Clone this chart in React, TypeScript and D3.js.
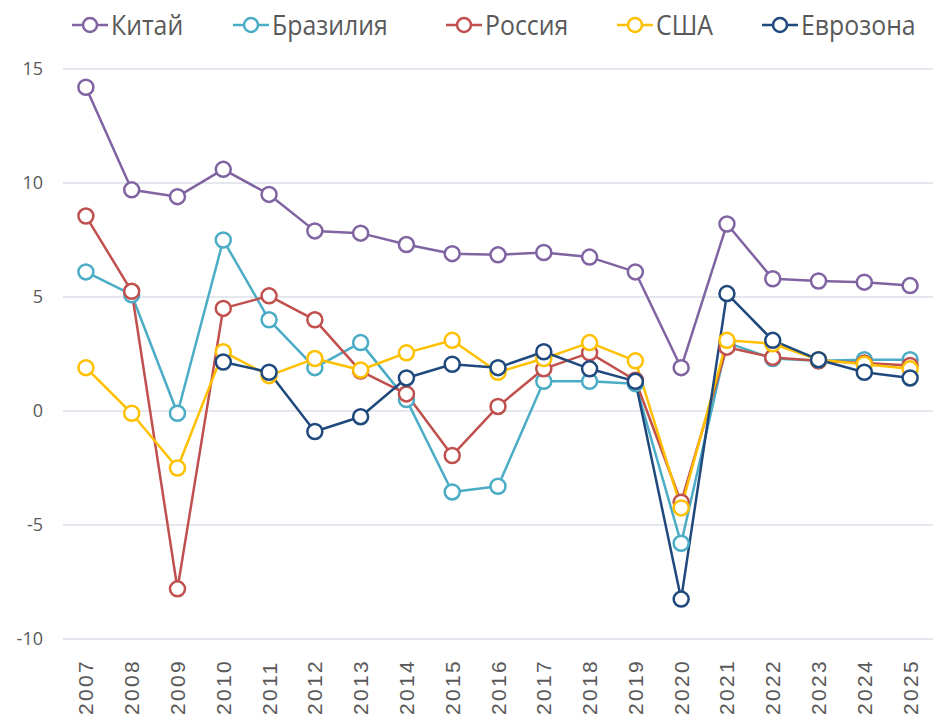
import React from 'react';
import * as d3 from 'd3';

// years on the x axis
const years = ['2007', '2008', '2009', '2010', '2011', '2012', '2013', '2014', '2015', '2016',
  '2017', '2018', '2019', '2020', '2021', '2022', '2023', '2024', '2025'];

// GDP growth, %
const china = [14.2, 9.7, 9.4, 10.6, 9.5, 7.9, 7.8, 7.3, 6.9, 6.85, 6.95, 6.75, 6.1, 1.9, 8.2, 5.8, 5.7, 5.65, 5.5];
const brazil = [6.1, 5.1, -0.1, 7.5, 4.0, 1.9, 3.0, 0.5, -3.55, -3.3, 1.3, 1.3, 1.2, -5.8, 3.0, 2.3, 2.2, 2.25, 2.25];
const russia = [8.55, 5.25, -7.8, 4.5, 5.05, 4.0, 1.75, 0.75, -1.95, 0.2, 1.85, 2.55, 1.35, -4.0, 2.8, 2.35, 2.2, 2.1, 2.0];
const usa = [1.9, -0.1, -2.5, 2.6, 1.55, 2.3, 1.8, 2.55, 3.1, 1.7, 2.3, 3.0, 2.2, -4.25, 3.1, 2.95, 2.25, 2.05, 1.85];
const eurozone = [null, null, null, 2.15, 1.7, -0.9, -0.25, 1.45, 2.05, 1.9, 2.6, 1.85, 1.3, -8.25, 5.15, 3.1, 2.25, 1.7, 1.45];

const yTicks = [15, 10, 5, 0, -5, -10];

const series = [
  { name: 'Китай', color: '#8064A2', values: china, lx: 90 },
  { name: 'Бразилия', color: '#4BACC6', values: brazil, lx: 251 },
  { name: 'Россия', color: '#C0504D', values: russia, lx: 464 },
  { name: 'США', color: '#FFC000', values: usa, lx: 635 },
  { name: 'Еврозона', color: '#1F497D', values: eurozone, lx: 780 },
];

export default function App() {
  const width = 934;
  const height = 719;
  const left = 63;
  const right = 933;

  const x = d3.scalePoint<string>().domain(years).range([left, right]).padding(0.5);
  const y = d3.scaleLinear().domain([-10, 15]).range([639, 69]);

  const line = d3.line<number | null>()
    .defined(d => d !== null)
    .x((_, i) => x(years[i]) as number)
    .y(d => y(d as number));

  const font = "'Open Sans', 'Noto Sans', sans-serif";
  const textColor = '#595959';

  return (
    <svg width={width} height={height} style={{ position: 'absolute', left: 0, top: 0 }}>
      <rect width={width} height={height} fill="#fff" />

      {/* gridlines and y labels */}
      {yTicks.map(t => (
        <g key={t}>
          <line x1={left} x2={right} y1={y(t)} y2={y(t)} stroke="#DCDFEA" strokeWidth={1.5} />
          <text x={43} y={y(t)} dy="0.35em" textAnchor="end" fontFamily={font} fontSize={18} fill={textColor}>
            {t}
          </text>
        </g>
      ))}

      {/* x labels, rotated */}
      {years.map(yr => (
        <text key={yr}
          transform={`translate(${(x(yr) as number) + 7.5},${715}) rotate(-90)`}
          textAnchor="start" fontFamily="'Liberation Sans', Arial, sans-serif" fontSize={21}
          letterSpacing={2.3} fill={textColor}>
          {yr}
        </text>
      ))}

      {/* lines */}
      {series.map(s => (
        <path key={s.name} d={line(s.values) || ''} fill="none" stroke={s.color} strokeWidth={2.5} strokeLinejoin="round" />
      ))}

      {/* markers */}
      {series.map(s => (
        <g key={s.name + '-m'}>
          {s.values.map((v, i) => v === null ? null : (
            <circle key={i} cx={x(years[i])} cy={y(v)} r={7.5} fill="#fff" stroke={s.color} strokeWidth={2.5} />
          ))}
        </g>
      ))}

      {/* legend */}
      {series.map(s => (
        <g key={s.name + '-l'}>
          <line x1={s.lx - 18} x2={s.lx + 18} y1={25} y2={25} stroke={s.color} strokeWidth={2.5} />
          <circle cx={s.lx} cy={25} r={7} fill="#fff" stroke={s.color} strokeWidth={2.5} />
          <text transform={`translate(${s.lx + 21},${25}) scale(0.92,1)`} dy="0.36em"
            fontFamily={font} fontSize={27} fill={textColor}>{s.name}</text>
        </g>
      ))}
    </svg>
  );
}
